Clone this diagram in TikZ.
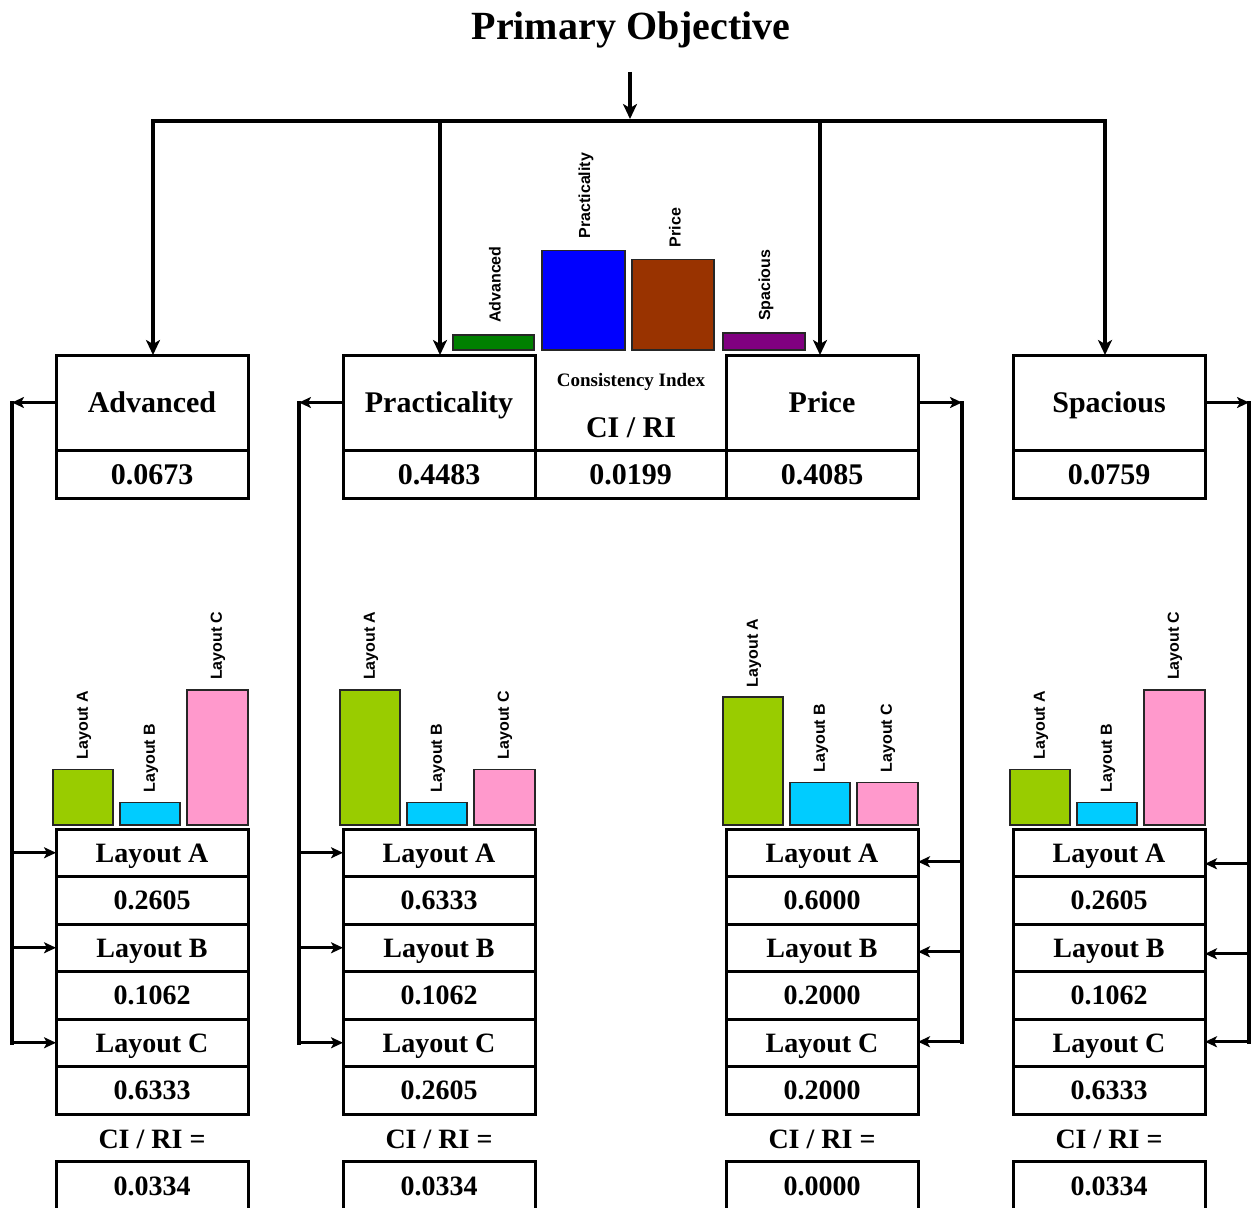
\documentclass[tikz,border=0pt]{standalone}
\usepackage{fontspec}
\setmainfont{Liberation Serif}
\newfontfamily\sansf{Liberation Sans}
\usetikzlibrary{arrows.meta}
\definecolor{cAdv}{HTML}{008000}
\definecolor{cPra}{HTML}{0000FF}
\definecolor{cPri}{HTML}{993300}
\definecolor{cSpa}{HTML}{800080}
\definecolor{lA}{HTML}{99CC00}
\definecolor{lB}{HTML}{00CCFF}
\definecolor{lC}{HTML}{FF99CC}
\begin{document}
\begin{tikzpicture}[x=1pt,y=-1pt,
  cell/.style={draw, line width=3pt, minimum width=192pt, inner sep=0pt, outer sep=0pt},
  big/.style={font=\bfseries\fontsize{30}{30}\selectfont, text height=20pt, text depth=0pt},
  small/.style={font=\bfseries\fontsize{28}{28}\selectfont, text height=18.5pt, text depth=0pt},
  lab/.style={font=\sansf\bfseries\fontsize{16}{16}\selectfont, rotate=90, anchor=west, inner sep=0pt},
  barst/.style={draw=black!85, line width=1.5pt},
  tarr/.style={line width=4pt, -{Stealth[length=15pt,width=14pt,inset=4pt]}},
  tboth/.style={line width=4pt, {Stealth[length=15pt,width=14pt,inset=4pt]}-{Stealth[length=15pt,width=14pt,inset=4pt]}},
  sline/.style={line width=3.5pt, line cap=rect},
  sarr/.style={line width=3.2pt, -{Stealth[length=12pt,width=11pt,inset=3pt]}},
]
\useasboundingbox[fill=white] (0,0) rectangle (1255,1207);

% title
\node[font=\bfseries\fontsize{40}{40}\selectfont] (title) at (631,30) {Primary Objective};

% criteria boxes
\node[cell,big,minimum height=95pt] (adv) at (152,402.5) {Advanced};
\node[cell,big,minimum height=48pt] (adv-v) at (152,474) {0.0673};
\node[cell,big,minimum height=95pt] (pra) at (439,402.5) {Practicality};
\node[cell,big,minimum height=48pt] (pra-v) at (439,474) {0.4483};
\node[cell,big,minimum height=48pt,minimum width=191pt] (ci-v) at (630.5,474) {0.0199};
\node[cell,big,minimum height=95pt] (pri) at (822,402.5) {Price};
\node[cell,big,minimum height=48pt] (pri-v) at (822,474) {0.4085};
\node[cell,big,minimum height=95pt] (spa) at (1109,402.5) {Spacious};
\node[cell,big,minimum height=48pt] (spa-v) at (1109,474) {0.0759};
\node[font=\bfseries\fontsize{19}{19}\selectfont, text height=12.5pt, text depth=0pt] (ci-t) at (631,380) {Consistency Index};
\node[big] (ci-l) at (631,427) {CI / RI};

% top chart
\draw[barst, fill=cAdv] (453,350) rectangle (534,350-0.0673*222);
\node[lab] (tl-adv) at (495,350-0.0673*222-12) {Advanced};
\draw[barst, fill=cPra] (542,350) rectangle (625,350-0.4483*222);
\node[lab] (tl-pra) at (586,350-0.4483*222-12) {Practicality};
\draw[barst, fill=cPri] (632,350) rectangle (714,350-0.4085*222);
\node[lab] (tl-pri) at (675,350-0.4085*222-12) {Price};
\draw[barst, fill=cSpa] (723,350) rectangle (805,350-0.0759*222);
\node[lab] (tl-spa) at (766,350-0.0759*222-12) {Spacious};

% top connectors
\coordinate (ts) at (630,72);
\coordinate (hl) at (153,121);
\coordinate (hr) at (1105,121);
\coordinate (hp) at (440,121);
\coordinate (hq) at (820,121);
\draw[tarr, shorten >=2pt] (ts) -- (ts |- hl);
\draw[tboth] (adv.north -| hl) -- (hl) -- (hr) -- (spa.north -| hr);
\draw[tarr] (hp) -- (hp |- pra.north);
\draw[tarr] (hq) -- (hq |- pri.north);

% alternative columns
\foreach \nm/\cx/\va/\vb/\vc/\ci in {adv/152/0.2605/0.1062/0.6333/0.0334, pra/439/0.6333/0.1062/0.2605/0.0334, pri/822/0.6000/0.2000/0.2000/0.0000, spa/1109/0.2605/0.1062/0.6333/0.0334}{
  \node[cell,small,minimum height=47.5pt] (\nm-LA) at (\cx,852.75) {Layout A};
  \node[cell,small,minimum height=47.5pt] (\nm-VA) at (\cx,900.25) {\va};
  \node[cell,small,minimum height=47.5pt] (\nm-LB) at (\cx,947.75) {Layout B};
  \node[cell,small,minimum height=47.5pt] (\nm-VB) at (\cx,995.25) {\vb};
  \node[cell,small,minimum height=47.5pt] (\nm-LC) at (\cx,1042.75) {Layout C};
  \node[cell,small,minimum height=47.5pt] (\nm-VC) at (\cx,1090.25) {\vc};
  \node[small] (\nm-cit) at (\cx,1139) {CI / RI =};
  \node[cell,minimum height=60pt] (\nm-CI) at (\cx,1191) {};
  \node[small] (\nm-civ) at (\cx,1186) {\ci};
  \pgfmathsetmacro\ha{\va*213}
  \pgfmathsetmacro\hb{\vb*213}
  \pgfmathsetmacro\hc{\vc*213}
  \draw[barst, fill=lA] (\cx-99,825) rectangle (\cx-39,825-\ha);
  \draw[barst, fill=lB] (\cx-32,825) rectangle (\cx+28,825-\hb);
  \draw[barst, fill=lC] (\cx+35,825) rectangle (\cx+96,825-\hc);
  \node[lab] (\nm-bA) at (\cx-68,825-\ha-10) {Layout A};
  \node[lab] (\nm-bB) at (\cx-1,825-\hb-10) {Layout B};
  \node[lab] (\nm-bC) at (\cx+66,825-\hc-10) {Layout C};
}

% side connectors, left
\coordinate (advk) at (12,402.5);
\draw[sarr] (adv.west) -- (advk);
\draw[sline] (advk) -- (advk |- adv-LC.west);
\foreach \r in {LA,LB,LC} \draw[sarr] (advk |- adv-\r.west) -- (adv-\r.west);

\coordinate (prak) at (299,402.5);
\draw[sarr] (pra.west) -- (prak);
\draw[sline] (prak) -- (prak |- pra-LC.west);
\foreach \r in {LA,LB,LC} \draw[sarr] (prak |- pra-\r.west) -- (pra-\r.west);

% side connectors, right
\coordinate (prik) at (962,402.5);
\draw[sarr] (pri.east) -- (prik);
\foreach \r/\s in {LA/-9,LB/-4,LC/1} {
  \path ([yshift=\s pt]pri-\r.east) coordinate (pri-\r-in);
  \draw[sarr] (prik |- pri-\r-in) -- (pri-\r-in);
}
\draw[sline] (prik) -- (prik |- pri-LC-in);

\coordinate (spak) at (1249,402.5);
\draw[sarr] (spa.east) -- (spak);
\foreach \r/\s in {LA/-11,LB/-6,LC/1} {
  \path ([yshift=\s pt]spa-\r.east) coordinate (spa-\r-in);
  \draw[sarr] (spak |- spa-\r-in) -- (spa-\r-in);
}
\draw[sline] (spak) -- (spak |- spa-LC-in);
\end{tikzpicture}
\end{document}
